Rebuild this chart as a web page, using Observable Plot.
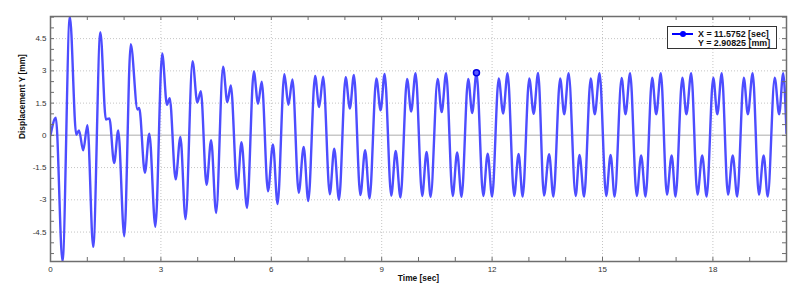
<!DOCTYPE html>
<html>
<head>
<meta charset="utf-8">
<script src="https://cdn.jsdelivr.net/npm/d3@7"></script>
<script src="https://cdn.jsdelivr.net/npm/@observablehq/plot@0.6"></script>
<style>
  html, body { margin: 0; padding: 0; background: #ffffff; }
  #chart { width: 807px; height: 293px; }
</style>
</head>
<body>
<div id="chart"></div>
<script>
// ---- data (local extrema of the trace) ----
const timeSec = [
  0.000, 0.145, 0.326, 0.526, 0.700, 0.775, 0.888, 1.003, 1.160, 1.355,
  1.505, 1.600, 1.730, 1.840, 2.005, 2.180, 2.365, 2.410, 2.565, 2.685,
  2.850, 3.035, 3.165, 3.240, 3.400, 3.530, 3.670, 3.860, 3.990, 4.085,
  4.240, 4.365, 4.500, 4.690, 4.805, 4.900, 5.075, 5.190, 5.340, 5.525,
  5.640, 5.740, 5.910, 6.045, 6.170, 6.355, 6.465, 6.575, 6.745, 6.880,
  7.005, 7.190, 7.300, 7.410, 7.590, 7.710, 7.840, 8.020, 8.135, 8.245,
  8.420, 8.550, 8.670, 8.855, 8.970, 9.080, 9.260, 9.380, 9.510, 9.690,
  9.800, 9.920, 10.100, 10.220, 10.330, 10.520, 10.630, 10.750, 10.930, 11.050,
  11.170, 11.350, 11.460, 11.5752, 11.760, 11.880, 12.000, 12.180, 12.300, 12.420,
  12.600, 12.720, 12.830, 13.010, 13.130, 13.250, 13.410, 13.550, 13.665, 13.850,
  13.960, 14.080, 14.270, 14.375, 14.500, 14.680, 14.790, 14.920, 15.100, 15.220,
  15.330, 15.520, 15.625, 15.750, 15.930, 16.050, 16.170, 16.350, 16.460, 16.585,
  16.750, 16.880, 16.985, 17.170, 17.280, 17.410, 17.580, 17.710, 17.830, 18.010,
  18.120, 18.240, 18.410, 18.540, 18.660, 18.840, 18.950, 19.080, 19.250, 19.380,
  19.490, 19.680, 19.800, 19.910, 20.000
];
const dispMm = [
  0.00, 0.82, -5.87, 5.53, 0.03, 0.23, -0.70, 0.47, -5.19, 4.80,
  0.74, 0.79, -1.29, 0.23, -4.70, 4.24, 1.20, 1.28, -1.74, 0.08,
  -4.25, 3.81, 1.42, 1.73, -2.05, -0.08, -3.90, 3.45, 1.53, 2.06,
  -2.30, -0.22, -3.61, 3.19, 1.55, 2.32, -2.50, -0.32, -3.38, 2.97,
  1.47, 2.50, -2.60, -0.42, -3.20, 2.84, 1.42, 2.60, -2.67, -0.54,
  -3.06, 2.76, 1.32, 2.73, -2.74, -0.62, -3.00, 2.70, 1.25, 2.81,
  -2.78, -0.69, -2.93, 2.65, 1.16, 2.86, -2.81, -0.73, -2.89, 2.63,
  1.11, 2.89, -2.82, -0.77, -2.86, 2.63, 1.08, 2.89, -2.82, -0.80,
  -2.86, 2.63, 1.04, 2.908, -2.82, -0.85, -2.85, 2.65, 1.02, 2.89,
  -2.82, -0.86, -2.85, 2.65, 1.00, 2.90, -2.80, -0.88, -2.85, 2.65,
  0.98, 2.89, -2.82, -0.91, -2.85, 2.65, 0.98, 2.89, -2.82, -0.91,
  -2.85, 2.67, 0.98, 2.89, -2.82, -0.93, -2.85, 2.68, 0.98, 2.89,
  -2.76, -0.93, -2.85, 2.68, 0.98, 2.89, -2.76, -0.93, -2.85, 2.68,
  0.98, 2.89, -2.76, -0.93, -2.85, 2.68, 0.98, 2.89, -2.76, -0.93,
  -2.85, 2.68, 0.98, 2.89, 0.10
];

// cursor read-out
const cursorX = 11.5752;
const cursorY = 2.90825;

// tick labels
const xMajor = [0, 3, 6, 9, 12, 15, 18];
const yMajor = [-4.5, -3, -1.5, 0, 1.5, 3, 4.5];
const xMinor = d3.range(0, 21, 1);
const yMinor = d3.range(-5.5, 5.51, 0.5);

const xTitle = "Time [sec]";
const yTitle = "Displacement Y [mm]";

// ---- build ----
const series = timeSec.map((t, i) => ({t, v: dispMm[i]}));
const cursor = [{t: cursorX, v: cursorY}];

const W = 807, H = 293;
const mL = 50, mR = 21, mT = 16, mB = 32;
const innerW = W - mL - mR, innerH = H - mT - mB;
const tickLen = 4;
const fmt = d => `${d}`;

const lineColor = "#4d4dff";
const frameColor = "#6e6e6e";
const gridColor = "#c4c4c4";

const chart = Plot.plot({
  width: W,
  height: H,
  marginLeft: mL,
  marginRight: mR,
  marginTop: mT,
  marginBottom: mB,
  x: {domain: [0, 20]},
  y: {domain: d3.extent(dispMm)},
  style: {
    fontFamily: "'Liberation Sans', Arial, sans-serif",
    fontSize: "8px",
    color: "#333",
    background: "#ffffff",
    overflow: "visible"
  },
  marks: [
    Plot.gridX(xMajor.filter(d => d > 0), {stroke: gridColor, strokeOpacity: 1, strokeDasharray: "1,2"}),
    Plot.gridY(yMajor.filter(d => d !== 0), {stroke: gridColor, strokeOpacity: 1, strokeDasharray: "1,2"}),
    Plot.ruleY([0], {stroke: "#c8c8c8", strokeWidth: 1.5}),
    Plot.line(series, {x: "t", y: "v", curve: "monotone-x", stroke: lineColor, strokeWidth: 2.4, clip: true}),
    Plot.dot(cursor, {x: "t", y: "v", r: 3, fill: "#5a5aff", stroke: "#0000e6", strokeWidth: 1.5}),
    // inward ticks on all four sides
    Plot.tickX(xMinor, {x: d => d, stroke: frameColor, insetTop: innerH - tickLen}),
    Plot.tickX(xMinor, {x: d => d, stroke: frameColor, insetBottom: innerH - tickLen}),
    Plot.tickY(yMinor, {y: d => d, stroke: frameColor, insetRight: innerW - tickLen}),
    Plot.tickY(yMinor, {y: d => d, stroke: frameColor, insetLeft: innerW - tickLen}),
    // tick labels
    Plot.axisX(xMajor, {anchor: "bottom", tickSize: 0, tickPadding: 5, tickFormat: fmt, label: null, fill: "#333"}),
    Plot.axisY(yMajor, {anchor: "left", tickSize: 0, tickPadding: 4, tickFormat: fmt, label: null, fill: "#333"}),
    // axis titles
    Plot.text([xTitle], {frameAnchor: "bottom", dy: 19, text: d => d, fontWeight: "bold", fontSize: 8.4, fill: "#111"}),
    Plot.text([yTitle], {frameAnchor: "left", dx: -28, rotate: -90, text: d => d, fontWeight: "bold", fontSize: 8.4, fill: "#111"}),
    Plot.frame({stroke: frameColor, strokeWidth: 1.5})
  ]
});

// ---- cursor legend box (top right, inside the frame) ----
const svg = d3.select(chart);
const bw = 109, bh = 22;
const bx = W - mR - 10 - bw, by = mT + 10;
const g = svg.append("g").attr("class", "cursor-legend").attr("text-anchor", "start");
g.append("rect").attr("x", bx + 0.5).attr("y", by + 0.5).attr("width", bw).attr("height", bh)
  .attr("fill", "#ffffff").attr("stroke", "#333").attr("stroke-width", 1);
g.append("line").attr("x1", bx + 5).attr("x2", bx + 26).attr("y1", by + 8).attr("y2", by + 8)
  .attr("stroke", "#0000ff").attr("stroke-width", 2);
g.append("circle").attr("cx", bx + 16).attr("cy", by + 8).attr("r", 3).attr("fill", "#0000ff");
g.append("text").attr("x", bx + 31).attr("y", by + 10.5).attr("text-anchor", "start")
  .attr("font-family", "'Liberation Sans', Arial, sans-serif").attr("font-size", 8.9)
  .attr("font-weight", "bold").attr("fill", "#111")
  .text(`X = ${cursorX} [sec]`);
g.append("text").attr("x", bx + 31).attr("y", by + 19.5).attr("text-anchor", "start")
  .attr("font-family", "'Liberation Sans', Arial, sans-serif").attr("font-size", 8.9)
  .attr("font-weight", "bold").attr("fill", "#111")
  .text(`Y = ${cursorY} [mm]`);

document.getElementById("chart").appendChild(chart);
</script>
</body>
</html>
